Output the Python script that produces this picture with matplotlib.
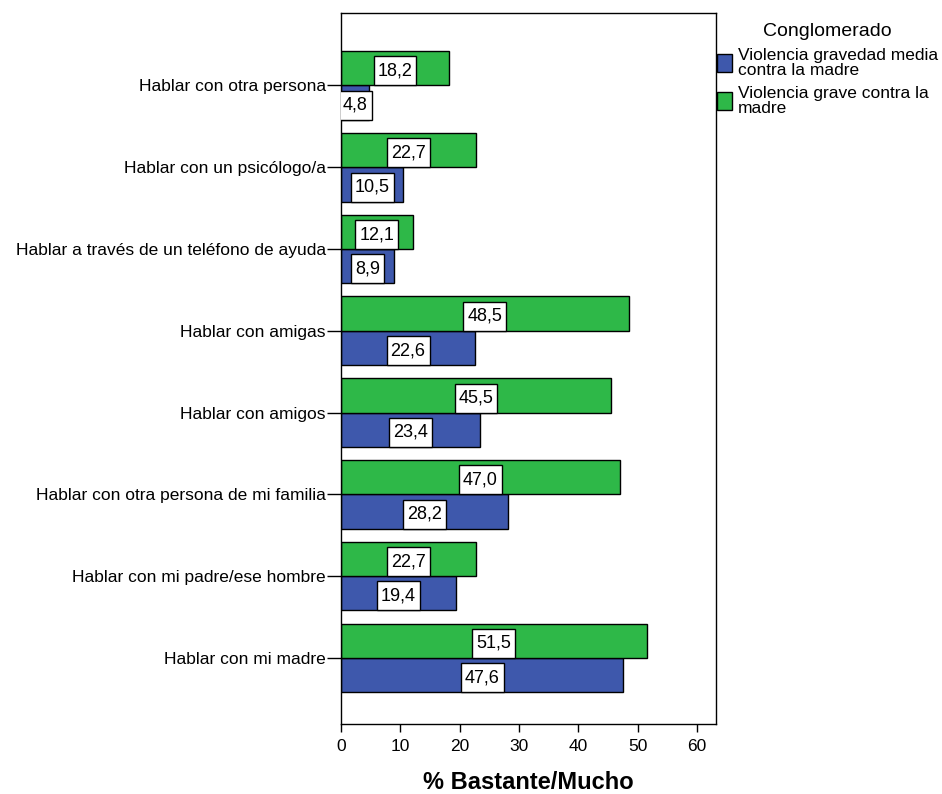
import numpy as np
import matplotlib.pyplot as plt
from matplotlib.patches import Rectangle

plt.rcParams['font.family'] = ['Liberation Sans', 'DejaVu Sans']

categories = ['Hablar con otra persona', 'Hablar con un psicólogo/a',
              'Hablar a través de un teléfono de ayuda', 'Hablar con amigas',
              'Hablar con amigos', 'Hablar con otra persona de mi familia',
              'Hablar con mi padre/ese hombre', 'Hablar con mi madre']
grave = [18.2, 22.7, 12.1, 48.5, 45.5, 47.0, 22.7, 51.5]
media = [4.8, 10.5, 8.9, 22.6, 23.4, 28.2, 19.4, 47.6]

col_media = '#3E58AC'
col_grave = '#2EB848'

fig = plt.figure(figsize=(9.42, 7.94), dpi=100)
ax = fig.add_axes([0.362, 0.088, 0.398, 0.896])

y = np.arange(len(categories))
h = 0.42
bm = ax.barh(y + h / 2, media, height=h, color=col_media, edgecolor='black',
             linewidth=1, label='Violencia gravedad media\ncontra la madre')
bg = ax.barh(y - h / 2, grave, height=h, color=col_grave, edgecolor='black',
             linewidth=1, label='Violencia grave contra la\nmadre')

ax.set_yticks(y)
ax.set_yticklabels(categories, fontsize=12.5)
ax.set_ylim(7.81, -0.89)
ax.set_xlim(0, 63.2)
ax.set_xticks([0, 10, 20, 30, 40, 50, 60])
ax.tick_params(axis='x', labelsize=12.5, length=6, width=1, pad=5)
ax.tick_params(axis='y', length=10, width=1, pad=1)
ax.set_xlabel('% Bastante/Mucho', fontsize=17, fontweight='bold', labelpad=12)
for s in ax.spines.values():
    s.set_linewidth(1)

# value labels: white box sitting on the lower part of each bar
box_h = 0.355
texts = []
for yy, v in zip(y - h / 2, grave):
    texts.append((v, yy, ax.text(v / 2, yy + h / 2 - box_h / 2, f'{v:.1f}'.replace('.', ','),
                                 ha='center', va='center', fontsize=13, zorder=4)))
for yy, v in zip(y + h / 2, media):
    texts.append((v, yy, ax.text(v / 2, yy + h / 2 - box_h / 2, f'{v:.1f}'.replace('.', ','),
                                 ha='center', va='center', fontsize=13, zorder=4)))

fig.canvas.draw()
r = fig.canvas.get_renderer()
inv = ax.transData.inverted()
for v, yy, t in texts:
    ext = t.get_window_extent(r)
    x0 = inv.transform((ext.x0 - 4, 0))[0]
    x1 = inv.transform((ext.x1 + 4, 0))[0]
    ax.add_patch(Rectangle((x0, yy + h / 2 - box_h), x1 - x0, box_h,
                           facecolor='white', edgecolor='black', linewidth=1, zorder=3))

leg = ax.legend(handles=[bm, bg], loc='upper left', bbox_to_anchor=(1.002, 0.986),
                frameon=False, fontsize=12.5, title='Conglomerado', title_fontsize=14,
                handlelength=0.9, handleheight=1.2, handletextpad=0.3,
                labelspacing=0.5, borderaxespad=0, borderpad=0)
for t in leg.get_texts():
    t.set_linespacing(0.95)

fig.savefig('out.png', dpi=100)
